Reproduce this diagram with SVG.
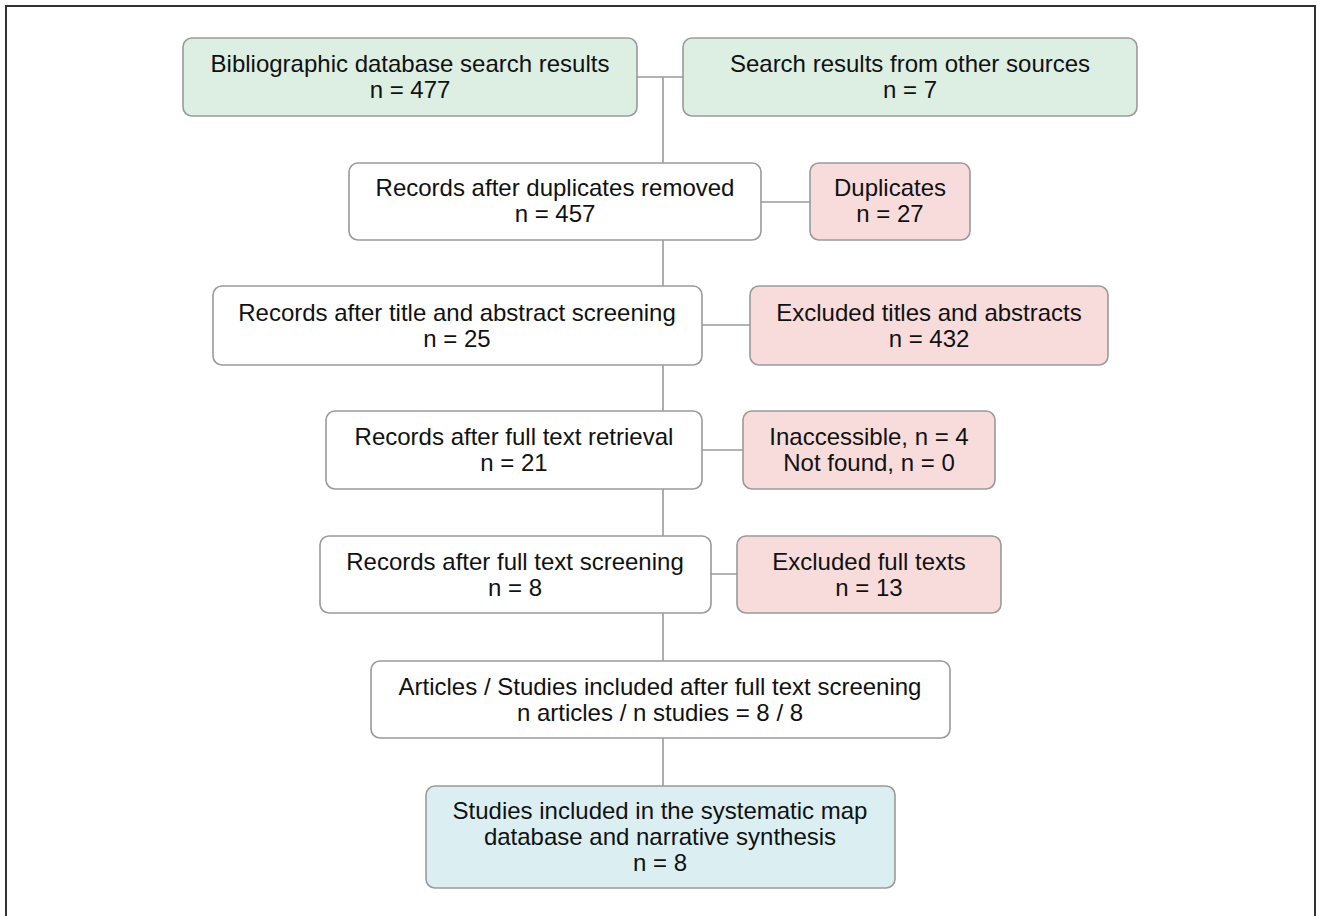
<svg xmlns="http://www.w3.org/2000/svg" width="1317" height="916" viewBox="0 0 1317 916">
<style>
.box{stroke:#9a9a9a;stroke-width:1.6}
.w{fill:#ffffff}
.g{fill:#ddeee2}
.p{fill:#f8dcdc}
.b{fill:#dbeff3}
.t{font-family:"Liberation Sans",Arial,sans-serif;font-size:24px;fill:#111111;text-anchor:middle}
.c{stroke:#9a9a9a;stroke-width:1.6;fill:none}
</style>
<rect x="0" y="0" width="1317" height="916" fill="#ffffff"/>
<rect x="6" y="6" width="1309" height="930" fill="none" stroke="#333333" stroke-width="2"/>
<g id="connectors">
<path class="c" d="M637 77H683M663 77V163M663 240V286M663 365V411M663 489V536M663 613V661M663 738V786"/>
<path class="c" d="M761 202H810M702 325H750M702 450H743M711 574H737"/>
</g>
<g id="n1"><rect class="box g" x="183" y="38" width="454" height="78" rx="9"/><text class="t" x="410" y="72">Bibliographic database search results</text><text class="t" x="410" y="98">n = 477</text></g>
<g id="n2"><rect class="box g" x="683" y="38" width="454" height="78" rx="9"/><text class="t" x="910" y="72">Search results from other sources</text><text class="t" x="910" y="98">n = 7</text></g>
<g id="n3"><rect class="box w" x="349" y="163" width="412" height="77" rx="9"/><text class="t" x="555" y="196">Records after duplicates removed</text><text class="t" x="555" y="222">n = 457</text></g>
<g id="n4"><rect class="box p" x="810" y="163" width="160" height="77" rx="9"/><text class="t" x="890" y="196">Duplicates</text><text class="t" x="890" y="222">n = 27</text></g>
<g id="n5"><rect class="box w" x="213" y="286" width="489" height="79" rx="9"/><text class="t" x="457" y="321">Records after title and abstract screening</text><text class="t" x="457" y="347">n = 25</text></g>
<g id="n6"><rect class="box p" x="750" y="286" width="358" height="79" rx="9"/><text class="t" x="929" y="321">Excluded titles and abstracts</text><text class="t" x="929" y="347">n = 432</text></g>
<g id="n7"><rect class="box w" x="326" y="411" width="376" height="78" rx="9"/><text class="t" x="514" y="445">Records after full text retrieval</text><text class="t" x="514" y="471">n = 21</text></g>
<g id="n8"><rect class="box p" x="743" y="411" width="252" height="78" rx="9"/><text class="t" x="869" y="445">Inaccessible, n = 4</text><text class="t" x="869" y="471">Not found, n = 0</text></g>
<g id="n9"><rect class="box w" x="320" y="536" width="391" height="77" rx="9"/><text class="t" x="515" y="570">Records after full text screening</text><text class="t" x="515" y="596">n = 8</text></g>
<g id="n10"><rect class="box p" x="737" y="536" width="264" height="77" rx="9"/><text class="t" x="869" y="570">Excluded full texts</text><text class="t" x="869" y="596">n = 13</text></g>
<g id="n11"><rect class="box w" x="371" y="661" width="579" height="77" rx="9"/><text class="t" x="660" y="695">Articles / Studies included after full text screening</text><text class="t" x="660" y="721">n articles / n studies = 8 / 8</text></g>
<g id="n12"><rect class="box b" x="426" y="786" width="469" height="102" rx="9"/><text class="t" x="660" y="819">Studies included in the systematic map</text><text class="t" x="660" y="845">database and narrative synthesis</text><text class="t" x="660" y="871">n = 8</text></g>
</svg>
